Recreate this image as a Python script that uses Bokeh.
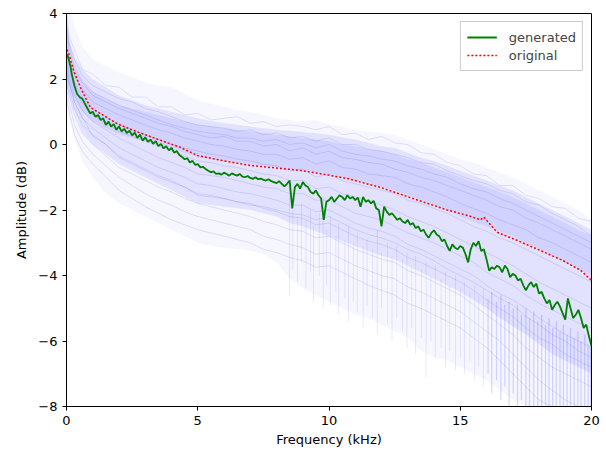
from bokeh.plotting import figure
from bokeh.models import Range1d, FixedTicker, CustomJSTickFormatter, Legend, LegendItem
from bokeh.embed import file_html
from bokeh.resources import INLINE

# ---- data ----
BLUE_X = [0, 0.1, 0.3, 0.6, 1.0, 1.5, 2.0, 2.5, 3.0, 3.5, 4.0, 4.5, 5.0, 5.5, 6.0, 6.5,
          7.0, 7.5, 8.0, 8.5, 9.0, 9.5, 10.0, 10.5, 11.0, 11.5, 12.0, 12.5, 13.0, 13.5,
          14.0, 14.5, 15.0, 15.5, 16.0, 16.5, 17.0, 17.5, 18.0, 18.5, 19.0, 19.5, 20.0]

blue_1 = [4.2,3.3,2.9,2.3,2.15,1.8,1.75,1.45,1.45,1.15,1.15,0.9,0.95,0.75,0.8,0.85,0.65,0.7,0.55,0.6,0.55,0.45,0.55,0.3,0.35,0.15,0.25,0.05,0.0,-0.25,-0.3,-0.55,-0.65,-0.9,-0.95,-1.25,-1.25,-1.55,-1.65,-1.9,-1.95,-2.25,-2.35]
blue_2 = [3.8,3.1,2.6,2.1,1.8,1.6,1.4,1.3,1.1,1.0,0.85,0.7,0.6,0.55,0.5,0.4,0.45,0.3,0.35,0.2,0.25,0.1,0.2,0.0,0.0,-0.15,-0.2,-0.3,-0.4,-0.55,-0.6,-0.8,-0.95,-1.1,-1.2,-1.4,-1.5,-1.75,-1.85,-2.1,-2.3,-2.5,-2.8]
blue_3 = [3.5,2.9,2.3,1.9,1.5,1.3,1.1,0.95,0.8,0.65,0.55,0.4,0.3,0.2,0.25,0.1,0.1,-0.05,0.0,-0.2,-0.1,-0.3,-0.2,-0.4,-0.45,-0.55,-0.6,-0.75,-0.85,-1.0,-1.1,-1.25,-1.4,-1.55,-1.7,-1.9,-2.0,-2.25,-2.4,-2.6,-2.8,-3.0,-3.2]
blue_4 = [3.6,3.0,2.4,1.95,1.6,1.4,1.2,1.05,0.9,0.75,0.6,0.5,0.4,0.35,0.3,0.2,0.2,0.1,0.15,0.0,0.05,-0.1,0.0,-0.2,-0.3,-0.35,-0.45,-0.5,-0.65,-0.75,-0.9,-1.0,-1.2,-1.35,-1.45,-1.65,-1.8,-2.0,-2.2,-2.4,-2.6,-2.8,-3.0]
blue_5 = [3.3,2.7,2.1,1.7,1.3,1.1,0.9,0.75,0.6,0.45,0.35,0.2,0.1,0.0,-0.05,-0.15,-0.2,-0.3,-0.3,-0.45,-0.4,-0.6,-0.5,-0.7,-0.75,-0.9,-0.95,-1.0,-1.2,-1.3,-1.45,-1.6,-1.8,-1.95,-2.1,-2.3,-2.45,-2.6,-2.85,-3.0,-3.2,-3.4,-3.6]
blue_6 = [3.0,2.5,1.9,1.45,1.1,0.85,0.6,0.45,0.3,0.15,0.0,-0.1,-0.2,-0.3,-0.35,-0.45,-0.5,-0.6,-0.65,-0.8,-0.75,-1.0,-0.9,-1.1,-1.2,-1.3,-1.4,-1.5,-1.7,-1.8,-1.95,-2.1,-2.3,-2.5,-2.65,-2.85,-3.0,-3.2,-3.4,-3.6,-3.8,-4.0,-4.2]
blue_7 = [2.8,2.3,1.7,1.25,0.9,0.65,0.4,0.25,0.1,-0.05,-0.2,-0.35,-0.5,-0.55,-0.65,-0.7,-0.8,-0.9,-0.95,-1.1,-1.1,-1.35,-1.3,-1.5,-1.6,-1.7,-1.85,-2.0,-2.2,-2.35,-2.5,-2.7,-2.9,-3.1,-3.3,-3.5,-3.7,-3.95,-4.2,-4.4,-4.6,-4.8,-5.0]
blue_8 = [2.6,2.1,1.5,1.05,0.7,0.45,0.2,0.0,-0.2,-0.4,-0.55,-0.7,-0.9,-0.95,-1.0,-1.1,-1.2,-1.3,-1.35,-1.5,-1.5,-1.7,-1.7,-1.9,-2.1,-2.2,-2.3,-2.5,-2.7,-2.85,-3.0,-3.2,-3.4,-3.6,-3.9,-4.1,-4.3,-4.6,-4.85,-5.05,-5.25,-5.45,-5.6]
blue_9 = [2.3,1.9,1.3,0.85,0.25,0.0,-0.35,-0.55,-0.75,-0.95,-1.1,-1.3,-1.55,-1.6,-1.65,-1.75,-1.85,-1.9,-2.0,-2.1,-2.15,-2.3,-2.2,-2.4,-2.6,-2.75,-2.85,-3.0,-3.2,-3.35,-3.55,-3.8,-4.0,-4.2,-4.45,-4.7,-4.9,-5.25,-5.5,-5.8,-6.0,-6.3,-6.5]
blue_10 = [2.4,1.9,1.3,0.8,0.5,0.2,-0.1,-0.3,-0.5,-0.7,-0.85,-1.0,-1.2,-1.25,-1.35,-1.45,-1.5,-1.6,-1.7,-1.85,-1.85,-2.05,-2.0,-2.2,-2.4,-2.55,-2.65,-2.8,-3.05,-3.2,-3.4,-3.6,-3.8,-4.0,-4.3,-4.55,-4.75,-5.0,-5.3,-5.55,-5.8,-6.0,-6.2]
blue_11 = [2.2,1.7,1.1,0.6,0.3,0.0,-0.4,-0.6,-0.8,-1.0,-1.15,-1.3,-1.5,-1.55,-1.65,-1.75,-1.8,-1.95,-2.05,-2.2,-2.25,-2.45,-2.4,-2.6,-2.8,-2.95,-3.05,-3.2,-3.45,-3.6,-3.8,-4.0,-4.2,-4.45,-4.75,-5.0,-5.25,-5.6,-5.9,-6.1,-6.4,-6.6,-6.8]
blue_12 = [2.0,1.5,0.9,0.35,0.0,-0.35,-0.7,-0.9,-1.1,-1.3,-1.45,-1.65,-1.8,-1.9,-2.0,-2.1,-2.2,-2.35,-2.45,-2.6,-2.65,-2.85,-2.8,-3.0,-3.2,-3.35,-3.5,-3.6,-3.85,-4.0,-4.2,-4.4,-4.6,-4.9,-5.2,-5.5,-5.8,-6.2,-6.5,-6.8,-7.0,-7.2,-7.4]
blue_13 = [1.8,1.3,0.6,0.1,-0.3,-0.65,-1.0,-1.25,-1.5,-1.7,-1.85,-2.05,-2.2,-2.3,-2.4,-2.5,-2.6,-2.8,-2.9,-3.05,-3.15,-3.35,-3.3,-3.5,-3.7,-3.85,-4.0,-4.1,-4.35,-4.5,-4.7,-4.9,-5.1,-5.4,-5.7,-6.0,-6.4,-6.8,-7.2,-7.5,-7.8,-8.0,-8.2]
blue_14 = [1.5,1.0,0.3,-0.2,-0.6,-1.0,-1.4,-1.65,-1.9,-2.1,-2.3,-2.45,-2.6,-2.7,-2.8,-2.9,-3.0,-3.2,-3.3,-3.45,-3.55,-3.75,-3.7,-3.9,-4.1,-4.3,-4.45,-4.6,-4.85,-5.0,-5.2,-5.4,-5.6,-5.9,-6.2,-6.6,-7.0,-7.4,-7.8,-8.0,-8.3,-8.4,-8.5]
BLUE_Y = [blue_1, blue_2, blue_3, blue_4, blue_5, blue_6, blue_7, blue_8,
          blue_9, blue_10, blue_11, blue_12, blue_13, blue_14]

# spread of all spectra (outer), of the bulk (mid) and of the upper cluster (core), on BLUE_X
OUTER_HI = [4.5,4.3,3.6,3.0,2.6,2.4,2.2,2.05,1.9,1.8,1.75,1.55,1.35,1.25,1.15,1.05,1.0,0.9,0.8,0.75,0.7,0.75,0.6,0.55,0.45,0.4,0.35,0.3,0.15,0.0,-0.15,-0.3,-0.45,-0.55,-0.7,-0.85,-1.0,-1.2,-1.4,-1.6,-1.8,-2.0,-2.3]
OUTER_LO = [1.2,0.8,0.2,-0.5,-1.0,-1.5,-1.8,-2.0,-2.2,-2.4,-2.6,-2.8,-3.0,-3.1,-3.15,-3.2,-3.25,-3.35,-3.6,-4.1,-4.4,-4.6,-4.8,-5.0,-5.2,-5.3,-5.5,-5.7,-5.9,-6.3,-6.5,-6.6,-6.8,-7.0,-7.2,-7.5,-7.8,-8.0,-8.5,-8.5,-8.5,-8.5,-8.5]
MID_HI = [3.8,3.2,2.7,2.3,2.0,1.75,1.5,1.35,1.2,1.1,1.0,0.9,0.8,0.72,0.65,0.6,0.55,0.5,0.45,0.42,0.38,0.34,0.3,0.22,0.15,0.05,-0.05,-0.1,-0.25,-0.4,-0.5,-0.65,-0.8,-0.95,-1.1,-1.25,-1.4,-1.6,-1.8,-2.0,-2.2,-2.4,-2.6]
MID_LO = [1.8,1.5,1.0,0.4,0.0,-0.3,-0.6,-0.8,-1.0,-1.2,-1.4,-1.6,-1.8,-1.85,-1.9,-1.95,-2.0,-2.1,-2.2,-2.4,-2.5,-2.65,-2.8,-2.95,-3.1,-3.25,-3.4,-3.5,-3.7,-3.9,-4.1,-4.3,-4.5,-4.75,-5.0,-5.3,-5.55,-5.8,-6.1,-6.4,-6.6,-6.8,-7.0]
CORE_HI = [3.0,2.7,2.3,1.9,1.6,1.4,1.2,1.1,1.0,0.9,0.8,0.7,0.6,0.55,0.5,0.45,0.4,0.35,0.3,0.25,0.2,0.15,0.1,0.0,-0.05,-0.15,-0.2,-0.3,-0.45,-0.55,-0.7,-0.85,-1.0,-1.15,-1.3,-1.45,-1.6,-1.8,-2.0,-2.2,-2.4,-2.6,-2.8]
CORE_LO = [2.0,1.8,1.4,1.0,0.7,0.5,0.3,0.2,0.1,0.0,-0.1,-0.25,-0.4,-0.45,-0.5,-0.55,-0.6,-0.65,-0.7,-0.75,-0.8,-0.85,-0.9,-1.0,-1.1,-1.2,-1.3,-1.4,-1.55,-1.7,-1.85,-2.0,-2.2,-2.35,-2.5,-2.65,-2.8,-3.0,-3.2,-3.4,-3.6,-3.8,-4.0]

# deep dips of individual spectra at high frequency
SPIKE_X = [8.5,8.62,8.8,8.95,9.12,9.3,9.41,9.63,9.78,9.9,10.05,10.26,10.37,10.6,10.74,10.93,11.08,11.3,11.45,11.66,
           11.84,12.0,12.23,12.4,12.58,12.8,12.97,13.15,13.3,13.52,13.7,13.88,14.05,14.27,14.44,14.6,14.82,15.0,15.16,15.37,
           15.55,15.7,15.88,16.06,16.2,16.38,16.55,16.7,16.86,17.02,17.18,17.33,17.5,17.64,17.8,17.95,18.1,18.25,18.38,18.52,
           18.66,18.8,18.93,19.07,19.2,19.34,19.48,19.6,19.74,19.87,19.97]
SPIKE_TOP = [-1.2,-2.0,-2.2,-1.8,-2.3,-2.0,-2.5,-2.1,-1.6,-2.6,-2.2,-2.8,-2.4,-2.9,-2.5,-3.0,-2.7,-3.1,-2.9,-3.2,
             -2.6,-3.3,-3.0,-3.4,-3.1,-3.5,-3.3,-3.7,-3.4,-3.8,-3.6,-4.0,-3.7,-4.1,-3.9,-4.3,-4.0,-4.4,-4.2,-4.5,
             -4.3,-4.6,-4.4,-4.7,-4.5,-4.8,-4.6,-4.9,-4.8,-5.0,-4.9,-5.2,-5.0,-5.3,-5.1,-5.4,-5.2,-5.5,-5.3,-5.6,
             -5.4,-5.7,-5.5,-5.8,-5.6,-5.9,-5.7,-6.0,-5.8,-6.1,-5.9]
SPIKE_BOT = [-4.6,-3.8,-4.2,-3.6,-4.4,-3.9,-4.8,-4.0,-5.0,-4.3,-4.9,-4.5,-5.2,-4.7,-5.4,-4.8,-5.1,-5.6,-4.9,-5.3,
             -5.8,-5.0,-5.5,-6.0,-5.3,-5.7,-6.2,-5.6,-6.4,-5.9,-7.1,-6.0,-6.5,-6.2,-6.8,-6.3,-6.9,-6.5,-7.0,-6.6,
             -7.2,-6.8,-7.4,-7.0,-7.6,-7.2,-7.8,-7.4,-8.0,-7.6,-8.0,-7.8,-8.0,-8.0,-8.0,-8.0,-8.0,-8.0,-8.0,-8.0,
             -8.0,-8.0,-8.0,-8.0,-8.0,-8.0,-8.0,-8.0,-8.0,-8.0,-8.0]

GEN_X = [0.02, 0.05, 0.1, 0.15, 0.2, 0.3, 0.4] + [round(0.5 + 0.1 * i, 2) for i in range(196)]
GEN_Y = [2.75, 2.7, 2.55, 2.4, 2.15, 1.8, 1.55,
         1.45,1.4,1.25,1.1,0.95,1.0,0.85,0.9,0.75,0.8,
         0.6,0.7,0.55,0.62,0.45,0.55,0.4,0.48,0.35,0.42,
         0.28,0.36,0.2,0.3,0.12,0.22,0.08,0.15,0.02,0.1,
         -0.05,0.02,-0.12,-0.05,-0.18,-0.1,-0.25,-0.2,-0.32,-0.38,
         -0.45,-0.42,-0.55,-0.5,-0.62,-0.6,-0.7,-0.68,-0.75,-0.8,
         -0.85,-0.82,-0.9,-0.88,-0.92,-0.86,-0.9,-0.95,-0.88,-0.92,
         -0.95,-0.9,-0.98,-1.0,-0.96,-1.02,-1.05,-1.0,-1.06,-1.04,
         -1.08,-1.1,-1.06,-1.12,-1.15,-1.18,-1.12,-1.2,-1.28,-1.2,
         -1.1,-1.95,-1.3,-1.2,-1.35,-1.15,-1.25,-1.3,-1.45,-1.5,
         -1.4,-1.55,-1.65,-2.3,-1.75,-1.7,-1.6,-1.75,-1.65,-1.55,
         -1.6,-1.7,-1.55,-1.65,-1.6,-1.7,-1.62,-1.9,-1.6,-1.75,
         -1.7,-1.8,-1.72,-1.95,-2.0,-2.5,-1.9,-2.05,-2.15,-2.1,
         -2.2,-2.3,-2.25,-2.35,-2.4,-2.3,-2.45,-2.4,-2.55,-2.5,
         -2.65,-2.6,-2.75,-2.85,-2.7,-2.62,-2.75,-2.8,-2.95,-2.9,
         -3.1,-3.25,-3.05,-3.15,-3.2,-3.1,-3.15,-3.35,-3.6,-3.2,
         -3.0,-3.1,-2.95,-3.25,-3.2,-3.5,-3.85,-3.75,-3.8,-3.7,
         -3.75,-3.9,-3.7,-3.8,-4.05,-3.95,-4.0,-4.15,-4.1,-4.3,
         -4.45,-4.3,-4.2,-4.35,-4.25,-4.55,-4.5,-4.7,-4.85,-4.75,
         -5.05,-4.9,-4.8,-4.95,-5.15,-5.35,-4.7,-5.0,-5.3,-5.2,
         -5.05,-5.3,-5.6,-5.5,-5.85,-6.15]

ORIG_X = [0.02, 0.1, 0.27, 0.53, 0.91, 1.3, 1.94, 2.55, 3.3, 4.34, 5.0, 6.0, 7.0, 8.15,
          8.9, 9.66, 10.7, 11.96, 13.2, 14.5, 15.3, 15.77, 15.9, 16.4, 17.0, 18.06, 18.9, 19.6, 20.0]
ORIG_Y = [2.9, 2.75, 2.26, 1.74, 1.13, 0.94, 0.63, 0.43, 0.21, -0.09, -0.34, -0.5, -0.64, -0.73,
          -0.79, -0.89, -1.04, -1.31, -1.65, -2.0, -2.17, -2.3, -2.22, -2.68, -2.87, -3.24, -3.54, -3.85, -4.15]

X_TICKS = [0, 5, 10, 15, 20]
Y_TICKS = [-8, -6, -4, -2, 0, 2, 4]

FONT = "DejaVu Sans"

p = figure(width=606, height=456, output_backend="svg", toolbar_location=None,
           x_range=Range1d(0, 20), y_range=Range1d(-8, 4),
           min_border_left=66, min_border_right=15, min_border_top=13, min_border_bottom=50)
p.background_fill_color = "white"
p.border_fill_color = "white"
p.outline_line_color = "black"
p.outline_line_width = 1
p.xgrid.visible = False
p.ygrid.visible = False

p.varea(x=BLUE_X, y1=OUTER_LO, y2=OUTER_HI, fill_color="blue", fill_alpha=0.035)
p.varea(x=BLUE_X, y1=MID_LO, y2=MID_HI, fill_color="blue", fill_alpha=0.08)
p.varea(x=BLUE_X, y1=CORE_LO, y2=CORE_HI, fill_color="blue", fill_alpha=0.07)

n_mid = sum(1 for x in SPIKE_X if x < 16)
p.segment(x0=SPIKE_X[:n_mid], y0=SPIKE_TOP[:n_mid], x1=SPIKE_X[:n_mid], y1=SPIKE_BOT[:n_mid],
          line_color="blue", line_alpha=0.09, line_width=1)
p.segment(x0=SPIKE_X[n_mid:], y0=SPIKE_TOP[n_mid:], x1=SPIKE_X[n_mid:], y1=SPIKE_BOT[n_mid:],
          line_color="blue", line_alpha=0.15, line_width=1.3)
for ys in BLUE_Y:
    p.line(BLUE_X, ys, line_color="blue", line_alpha=0.11, line_width=1)

g = p.line(GEN_X, GEN_Y, line_color="green", line_width=1.8)
r = p.line(ORIG_X, ORIG_Y, line_color="red", line_width=1.5, line_dash="2 2")

for ax in (p.xaxis[0], p.yaxis[0]):
    ax.axis_line_color = "black"
    ax.major_tick_line_color = "black"
    ax.minor_tick_line_color = None
    ax.major_tick_out = 4
    ax.major_tick_in = 0
    ax.major_label_text_font = FONT
    ax.major_label_text_font_size = "13px"
    ax.major_label_text_color = "black"
    ax.axis_label_text_font = FONT
    ax.axis_label_text_font_size = "13px"
    ax.axis_label_text_font_style = "normal"
    ax.axis_label_text_color = "black"

p.xaxis.ticker = FixedTicker(ticks=X_TICKS)
p.yaxis.ticker = FixedTicker(ticks=Y_TICKS)
p.yaxis.formatter = CustomJSTickFormatter(code="return tick.toString().replace('-', '\u2212');")
p.xaxis.axis_label = "Frequency (kHz)"
p.yaxis.axis_label = "Amplitude (dB)"
p.xaxis.axis_label_standoff = 4
p.yaxis.axis_label_standoff = 6

legend = Legend(items=[LegendItem(label="generated", renderers=[g]),
                       LegendItem(label="original", renderers=[r])],
                location="top_right")
legend.label_text_font = FONT
legend.label_text_font_size = "13px"
legend.border_line_color = "#cccccc"
legend.border_line_alpha = 1
legend.background_fill_alpha = 0.8
legend.margin = 8
legend.padding = 6
legend.spacing = 0
legend.glyph_width = 30
legend.glyph_height = 18
legend.label_height = 18
legend.label_standoff = 12
p.add_layout(legend)

open("out.html", "w").write(file_html(p, INLINE))
